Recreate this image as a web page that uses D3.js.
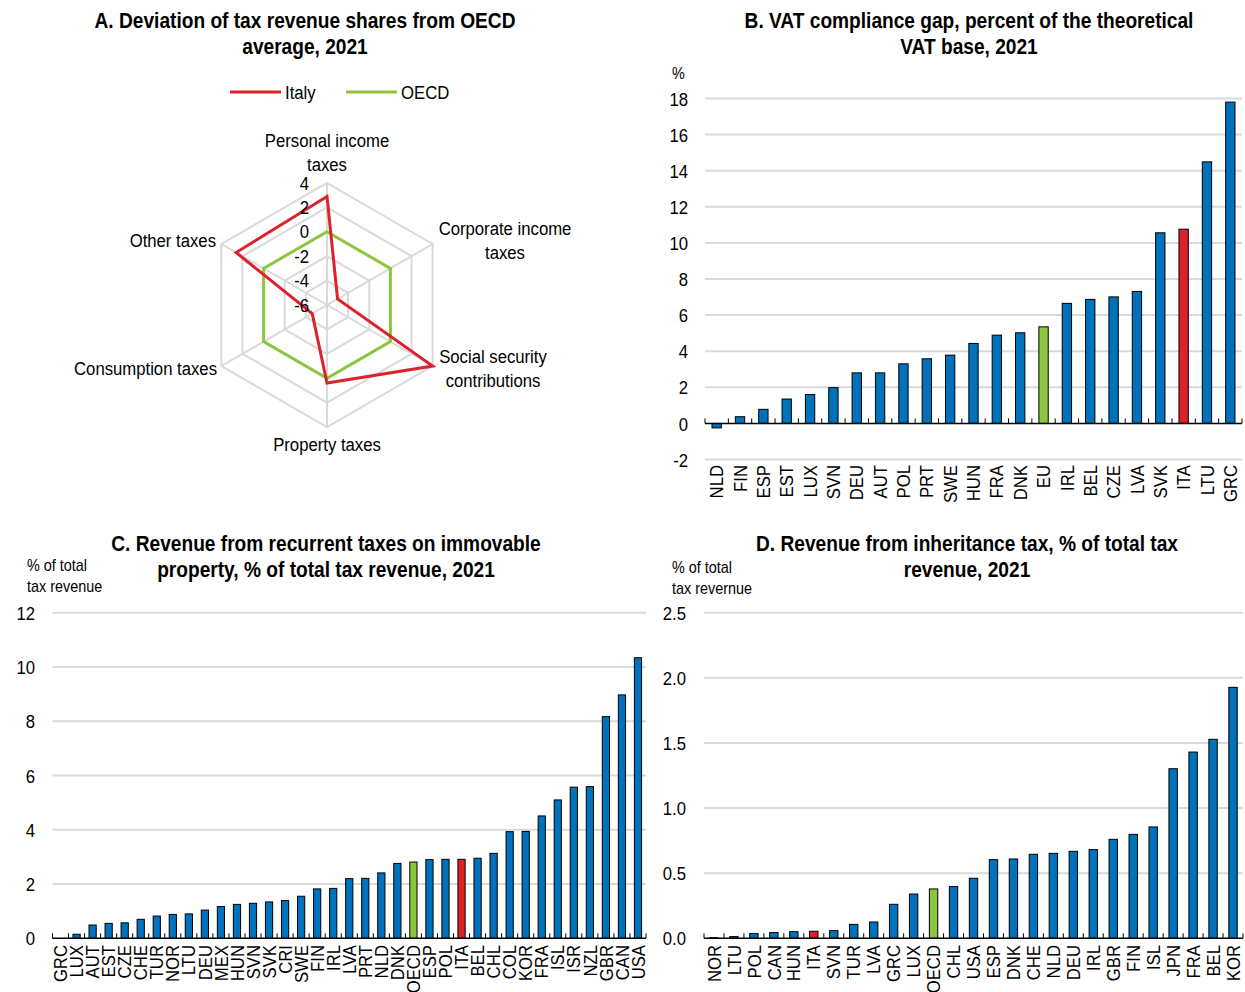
<!DOCTYPE html>
<html><head><meta charset="utf-8">
<script src="https://cdn.jsdelivr.net/npm/d3@7/dist/d3.min.js"></script>
<style>
html,body{margin:0;padding:0;background:#fff;}
svg text{font-family:'Liberation Sans','Arial',sans-serif;fill:#000;}
</style></head>
<body>
<svg id="chart" width="1245" height="992"></svg>
<script>
// ---------- DATA ----------
// Panel A
const radarAxes = ["Personal income taxes","Corporate income taxes","Social security contributions","Property taxes","Consumption taxes","Other taxes"];
const radarItaly = [2.9, -5.0, 4.0, 0.4, -4.6, 2.6];
const radarOECD = [0, 0, 0, 0, 0, 0];
const radarTicks = [-6, -4, -2, 0, 2, 4];

// Panel B
const vatCountries = ["NLD","FIN","ESP","EST","LUX","SVN","DEU","AUT","POL","PRT","SWE","HUN","FRA","DNK","EU","IRL","BEL","CZE","LVA","SVK","ITA","LTU","GRC"];
const vatValues = [-0.25,0.37,0.78,1.35,1.6,1.98,2.8,2.8,3.3,3.58,3.78,4.43,4.89,5.02,5.35,6.65,6.87,7.01,7.31,10.56,10.76,14.49,17.8];
const vatTicks = [-2,0,2,4,6,8,10,12,14,16,18];

// Panel C
const propCountries = ["GRC","LUX","AUT","EST","CZE","CHE","TUR","NOR","LTU","DEU","MEX","HUN","SVN","SVK","CRI","SWE","FIN","IRL","LVA","PRT","NLD","DNK","OECD","ESP","POL","ITA","BEL","CHL","COL","KOR","FRA","ISL","ISR","NZL","GBR","CAN","USA"];
const propValues = [0,0.15,0.49,0.55,0.57,0.70,0.82,0.88,0.90,1.04,1.17,1.25,1.29,1.34,1.39,1.55,1.82,1.84,2.2,2.21,2.41,2.76,2.81,2.9,2.91,2.91,2.95,3.13,3.93,3.94,4.51,5.1,5.57,5.59,8.17,8.97,10.34];
const propTicks = [0,2,4,6,8,10,12];

// Panel D
const inhCountries = ["NOR","LTU","POL","CAN","HUN","ITA","SVN","TUR","LVA","GRC","LUX","OECD","CHL","USA","ESP","DNK","CHE","NLD","DEU","IRL","GBR","FIN","ISL","JPN","FRA","BEL","KOR"];
const inhValues = [0.005,0.013,0.036,0.044,0.051,0.054,0.059,0.107,0.125,0.261,0.34,0.379,0.397,0.461,0.604,0.609,0.645,0.652,0.668,0.681,0.76,0.798,0.855,1.302,1.43,1.528,1.927];
const inhTicks = [0,0.5,1.0,1.5,2.0,2.5];

// ---------- STYLE ----------
const BLUE = "#0072bc", RED = "#dc222a", GREEN = "#8cc63f", GRID = "#d9d9d9";
const SX = 0.88; // horizontal condensing to mimic a narrow typeface
const svg = d3.select("#chart");

function addText(parent, x, y, lines, o = {}) {
  const t = parent.append("text")
    .attr("transform", `translate(${x},${y}) scale(${o.sx || SX},1)`)
    .attr("text-anchor", o.anchor || "start")
    .style("font-size", (o.size || 19) + "px")
    .style("font-weight", o.bold ? "bold" : null);
  lines.forEach((l, i) => t.append("tspan").attr("x", 0).attr("dy", i ? (o.lh || 24) : (o.dy0 || 0)).text(l));
  return t;
}
function title(x, y, lines) {
  addText(svg, x, y, lines, {anchor: "middle", size: 21.5, bold: true, sx: 0.89, lh: 26.5});
}
const hyph = f => d => f(d).replace("\u2212", "-");

// ---------- PANEL A: RADAR ----------
(function () {
  title(305, 28, ["A. Deviation of tax revenue shares from OECD", "average, 2021"]);
  const cx = 327, cy = 305, R = 122;
  const r = d3.scaleLinear().domain([-6, 4]).range([0, R]);
  const ang = i => -Math.PI / 2 + i * Math.PI / 3;
  const pt = (i, v) => [cx + r(v) * Math.cos(ang(i)), cy + r(v) * Math.sin(ang(i))];
  const g = svg.append("g");
  radarTicks.filter(t => t > -6).forEach(t => {
    g.append("path").attr("d", d3.line()(radarAxes.map((_, i) => pt(i, t))) + "Z")
      .attr("fill", "none").attr("stroke", GRID).attr("stroke-width", 2);
  });
  radarAxes.forEach((_, i) => {
    const p = pt(i, 4);
    g.append("line").attr("x1", cx).attr("y1", cy).attr("x2", p[0]).attr("y2", p[1])
      .attr("stroke", GRID).attr("stroke-width", 2);
  });
  const line = d3.line();
  g.append("path").attr("d", line(radarOECD.map((v, i) => pt(i, v))) + "Z")
    .attr("fill", "none").attr("stroke", GREEN).attr("stroke-width", 3);
  g.append("path").attr("d", line(radarItaly.map((v, i) => pt(i, v))) + "Z")
    .attr("fill", "none").attr("stroke", RED).attr("stroke-width", 3);
  radarTicks.forEach(t => {
    addText(g, cx - 18, cy - r(t), [String(t)], {anchor: "end", dy0: "0.35em"});
  });
  const labs = [
    {x: 327, y: 147, a: "middle", l: ["Personal income", "taxes"]},
    {x: 505, y: 235, a: "middle", l: ["Corporate income", "taxes"]},
    {x: 493, y: 363, a: "middle", l: ["Social security", "contributions"]},
    {x: 327, y: 451, a: "middle", l: ["Property taxes"]},
    {x: 217, y: 375, a: "end", l: ["Consumption taxes"]},
    {x: 216, y: 247, a: "end", l: ["Other taxes"]}
  ];
  labs.forEach(d => addText(g, d.x, d.y, d.l, {anchor: d.a}));
  const leg = [{n: "Italy", c: RED, x: 230}, {n: "OECD", c: GREEN, x: 346}];
  leg.forEach(d => {
    g.append("line").attr("x1", d.x).attr("x2", d.x + 51).attr("y1", 92).attr("y2", 92)
      .attr("stroke", d.c).attr("stroke-width", 3);
    addText(g, d.x + 55, 92, [d.n], {dy0: "0.35em"});
  });
})();

// ---------- BAR PANEL ----------
function barPanel(o) {
  const x = d3.scaleBand().domain(o.cats).range([o.x0, o.x1]).paddingInner(o.pad).paddingOuter(o.pad / 2);
  const y = d3.scaleLinear().domain(o.domain).range([o.yb, o.yt]);
  const g = svg.append("g");
  g.append("g").selectAll("line").data(o.ticks.filter(t => t !== 0)).join("line")
    .attr("x1", o.x0).attr("x2", o.x1).attr("y1", d => y(d)).attr("y2", d => y(d))
    .attr("stroke", GRID).attr("stroke-width", 2);
  const yAxis = d3.axisLeft(y).tickValues(o.ticks).tickSize(0).tickPadding(0).tickFormat(hyph(o.fmt));
  const ya = g.append("g").attr("transform", `translate(${o.lx},0)`).call(yAxis);
  ya.select(".domain").remove();
  ya.selectAll("text").style("font-size", "19px").style("font-family", null)
    .attr("x", 0).attr("dy", "0.35em").attr("transform", `scale(${SX},1)`);
  g.append("g").selectAll("rect").data(o.cats).join("rect")
    .attr("x", d => x(d))
    .attr("width", x.bandwidth())
    .attr("y", (d, i) => Math.min(y(o.vals[i]), y(0)))
    .attr("height", (d, i) => Math.abs(y(o.vals[i]) - y(0)))
    .attr("fill", d => d === "ITA" ? RED : (d === o.avg ? GREEN : BLUE))
    .attr("stroke", "#000").attr("stroke-width", 1);
  const y0 = y(0);
  g.append("line").attr("x1", o.x0).attr("x2", o.x1).attr("y1", y0).attr("y2", y0)
    .attr("stroke", "#000").attr("stroke-width", 1.5);
  const step = x.step();
  const bounds = d3.range(o.cats.length + 1).map(i => o.x0 + i * step);
  g.append("g").selectAll("line").data(bounds).join("line")
    .attr("x1", d => d).attr("x2", d => d).attr("y1", y0).attr("y2", y0 - 5)
    .attr("stroke", "#000").attr("stroke-width", 1);
  const xa = d3.axisBottom(x).tickSize(0).tickPadding(0);
  const xg = g.append("g").attr("transform", `translate(0,${o.labY})`).call(xa);
  xg.select(".domain").remove();
  xg.selectAll("text").style("font-size", "19px").style("font-family", null)
    .attr("transform", `rotate(-90) scale(${SX},1)`).attr("text-anchor", "end")
    .attr("x", 0).attr("y", 0).attr("dy", "0.35em");
  addText(svg, o.ux, o.uy, o.unit, {size: 16, lh: 21, sx: 0.9});
}

title(969, 28, ["B. VAT compliance gap, percent of the theoretical", "VAT base, 2021"]);
barPanel({cats: vatCountries, vals: vatValues, ticks: vatTicks, domain: [-2, 18], x0: 705, x1: 1242,
  yt: 98.5, yb: 459.5, pad: 0.6, lx: 688, labY: 465, avg: "EU", fmt: d3.format("d"),
  unit: ["%"], ux: 672, uy: 79});

title(326, 551, ["C. Revenue from recurrent taxes on immovable", "property, % of total tax revenue, 2021"]);
barPanel({cats: propCountries, vals: propValues, ticks: propTicks, domain: [0, 12], x0: 52.5, x1: 646,
  yt: 612.7, yb: 938.3, pad: 0.55, lx: 35, labY: 945, avg: "OECD", fmt: d3.format("d"),
  unit: ["% of total", "tax revenue"], ux: 27, uy: 571});

title(967, 551, ["D. Revenue from inheritance tax, % of total tax", "revenue, 2021"]);
barPanel({cats: inhCountries, vals: inhValues, ticks: inhTicks, domain: [0, 2.5], x0: 704, x1: 1243,
  yt: 612.7, yb: 938.3, pad: 0.58, lx: 686, labY: 945, avg: "OECD", fmt: d3.format(".1f"),
  unit: ["% of total", "tax revernue"], ux: 672, uy: 573});
</script>
</body></html>
